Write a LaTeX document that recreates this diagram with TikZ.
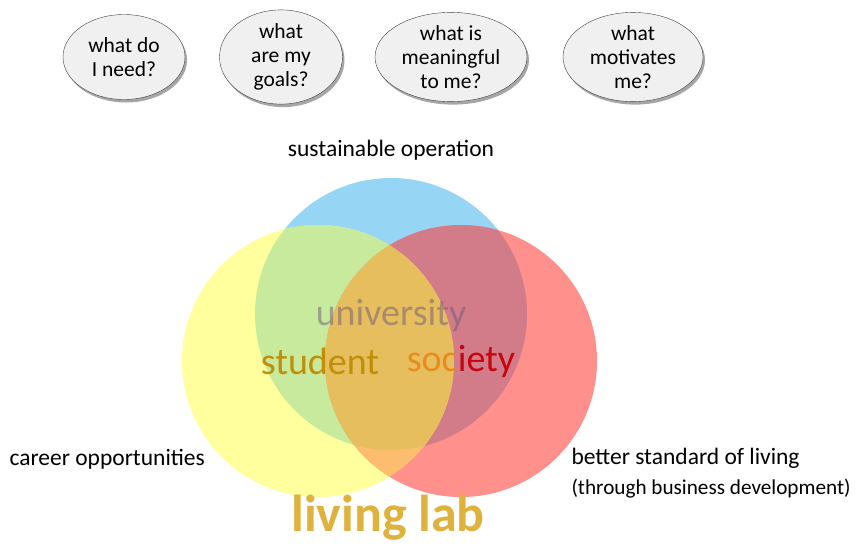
\documentclass[tikz,border=0pt]{standalone}
\usepackage{fontspec}
\setmainfont{Carlito}
\usetikzlibrary{shapes.geometric,shadows}
\definecolor{circblue}{RGB}{150,214,244}
\definecolor{circyellow}{RGB}{255,255,158}
\definecolor{circred}{RGB}{255,144,140}
\definecolor{mixgreen}{RGB}{200,234,156}
\definecolor{mixmauve}{RGB}{210,124,138}
\definecolor{mixorange}{RGB}{252,190,110}
\definecolor{mixcentre}{RGB}{230,190,94}
\definecolor{labgold}{RGB}{222,178,60}
\definecolor{studentgold}{RGB}{192,142,8}
\definecolor{socorange}{RGB}{232,140,28}
\definecolor{socred}{RGB}{200,4,16}
\definecolor{unitext}{RGB}{110,88,120}
\tikzset{
  question/.style={ellipse, draw=black!75, fill=black!6, minimum height=85pt,
    inner sep=0pt, align=center, font=\fontsize{21.5}{24}\selectfont,
    drop shadow={shadow xshift=2pt, shadow yshift=-3pt, opacity=0.35, fill=black}},
  sidelabel/.style={font=\fontsize{23.5}{30}\selectfont},
  circlelabel/.style={font=\fontsize{38}{40}\selectfont}
}
\begin{document}
\begin{tikzpicture}[x=1pt,y=-1pt]
    \useasboundingbox (0,0) rectangle (859,547);
    % questions
    \node[question, minimum width=122pt] (need) at (124,57) {what do\\I need?};
    \node[question, minimum width=123pt] (goals) at (281,57) {what\\are my\\goals?};
    \node[question, minimum width=152pt] (meaning) at (451,57) {what is\\meaningful\\to me?};
    \node[question, minimum width=140pt] (motivates) at (633,57) {what\\motivates\\me?};
    % circles
    \coordinate (blueC) at (391,314);
    \coordinate (yellowC) at (318,361);
    \coordinate (redC) at (461,361);
    \fill[circblue] (blueC) circle[radius=136];
    \fill[circyellow] (yellowC) circle[radius=136];
    \fill[circred] (redC) circle[radius=136];
    \begin{scope}
      \clip (blueC) circle[radius=136];
      \fill[mixgreen] (yellowC) circle[radius=136];
      \fill[mixmauve] (redC) circle[radius=136];
    \end{scope}
    \begin{scope}
      \clip (yellowC) circle[radius=136];
      \fill[mixorange] (redC) circle[radius=136];
      \clip (redC) circle[radius=136];
      \fill[mixcentre] (blueC) circle[radius=136];
    \end{scope}
    % labels in the circles
    \node[circlelabel, text=unitext, text opacity=0.5] (university) at (391,315) {university};
    \node[circlelabel, text=studentgold] (student) at (320,361) {student};
    \node[circlelabel] (society) at (461,361) {\textcolor{socorange}{soc}\textcolor{socred}{iety}};
    % labels around
    \node[sidelabel] (operation) at (391,150) {sustainable operation};
    \node[sidelabel, anchor=west] (career) at (6,459) {career opportunities};
    \node[sidelabel, anchor=north west, align=left] (living) at (568,445)
      {better standard of living\\{\fontsize{21.2}{30}\selectfont (through business development)}};
    \node[font=\bfseries\fontsize{52}{52}\selectfont, text=labgold, anchor=base] (lab) at (388,531) {living lab};
\end{tikzpicture}
\end{document}
